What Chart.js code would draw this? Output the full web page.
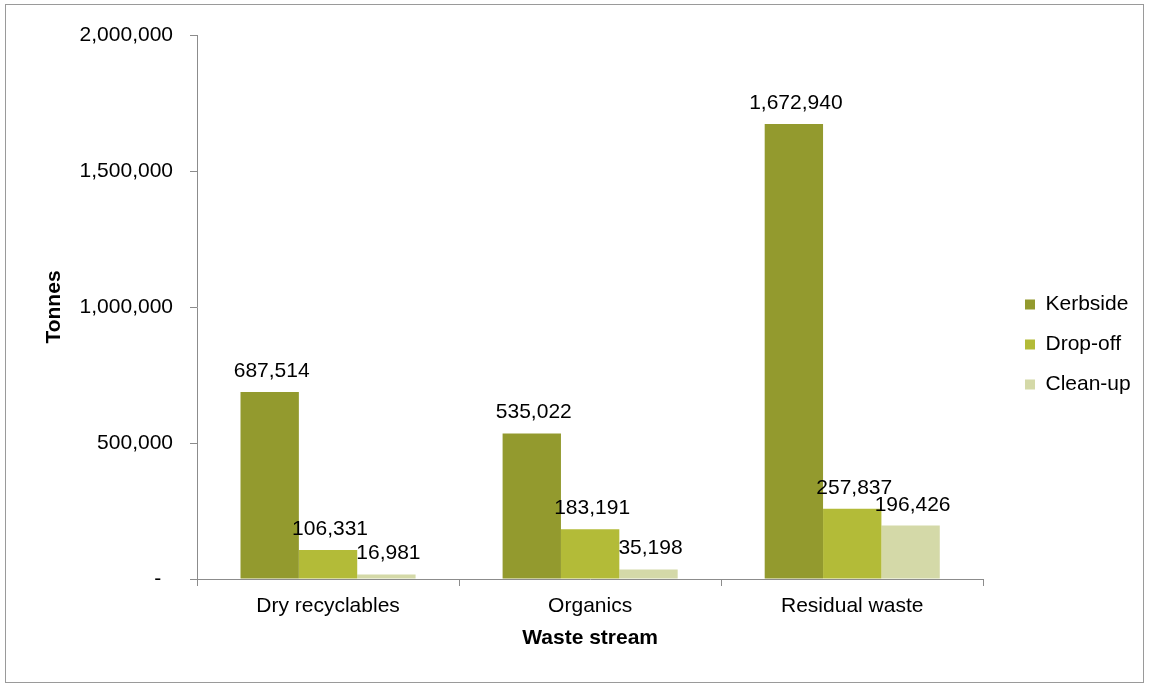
<!DOCTYPE html>
<html>
<head>
    <meta charset="utf-8">
    <title>Waste stream</title>
    <script src="https://cdn.jsdelivr.net/npm/chart.js@4.4.0/dist/chart.umd.min.js"></script>
    <style>
        body { margin: 0; background: #fff; }
        #wrap { position: relative; width: 1149px; height: 684px; }
    </style>
</head>
<body>
    <div id="wrap"><canvas id="canvas" width="1149" height="684"></canvas></div>
    <script>
        // data
        const streams = ['Dry recyclables', 'Organics', 'Residual waste'];
        const kerbside = [687514, 535022, 1672940];
        const dropOff = [106331, 183191, 257837];
        const cleanUp = [16981, 35198, 196426];
        const seriesNames = ['Kerbside', 'Drop-off', 'Clean-up'];
        const seriesColours = ['#939a2e', '#b3bb38', '#d4d9a8'];

        const fnt = '"Liberation Sans", Arial, sans-serif';
        const fs = 21;

        // grey frame round the whole chart
        const framePlugin = {
            id: 'frame',
            beforeDraw(chart) {
                const c = chart.ctx;
                c.save();
                c.strokeStyle = '#9a9a9a';
                c.lineWidth = 1;
                c.strokeRect(5.5, 4.5, 1138, 678);
                c.restore();
            }
        };

        // move the legend to where it sits in the original
        const legendPlace = {
            id: 'legendPlace',
            afterLayout(chart) {
                const lg = chart.legend;
                const dx = 1006 - lg.left;
                const dy = -15;
                lg.left += dx; lg.right += dx;
                lg.top += dy; lg.bottom += dy;
            }
        };

        // numbers above the bars
        const labelPlugin = {
            id: 'barLabels',
            afterDatasetsDraw(chart) {
                const c = chart.ctx;
                c.save();
                c.font = fs + 'px ' + fnt;
                c.fillStyle = '#000';
                c.textAlign = 'center';
                c.textBaseline = 'alphabetic';
                chart.data.datasets.forEach((ds, i) => {
                    chart.getDatasetMeta(i).data.forEach((bar, j) => {
                        c.fillText(ds.data[j].toLocaleString('en-US'), bar.x + 2, bar.y - 15);
                    });
                });
                c.restore();
            }
        };

        new Chart(document.getElementById('canvas'), {
            type: 'bar',
            data: {
                labels: streams,
                datasets: [kerbside, dropOff, cleanUp].map((d, i) => ({
                    label: seriesNames[i],
                    data: d,
                    backgroundColor: seriesColours[i],
                    categoryPercentage: 0.668,
                    barPercentage: 1
                }))
            },
            options: {
                responsive: false,
                animation: false,
                devicePixelRatio: 1,
                layout: { padding: { top: 35, left: 0, right: 31, bottom: 0 } },
                plugins: {
                    tooltip: { enabled: false },
                    legend: {
                        position: 'right',
                        labels: {
                            font: { family: fnt, size: fs },
                            color: '#000',
                            boxWidth: 10,
                            boxHeight: 10,
                            padding: 19
                        }
                    }
                },
                scales: {
                    x: {
                        afterFit(s) { s.height = 105; },
                        border: { color: '#8c8c8c' },
                        grid: { drawOnChartArea: false, tickLength: 7, color: '#8c8c8c', offset: true },
                        ticks: { font: { family: fnt, size: fs }, color: '#000', padding: 8 },
                        title: {
                            display: true, text: 'Waste stream',
                            font: { family: fnt, size: fs, weight: 'bold' }, color: '#000',
                            padding: { top: 0, bottom: 33 }
                        }
                    },
                    y: {
                        min: 0, max: 2000000,
                        afterFit(s) { s.width = 197; },
                        border: { color: '#8c8c8c' },
                        grid: { drawOnChartArea: false, tickLength: 7, color: '#8c8c8c' },
                        ticks: {
                            stepSize: 500000,
                            font: { family: fnt, size: fs }, color: '#000', padding: 17,
                            callback: v => v === 0 ? '-  ' : v.toLocaleString('en-US')
                        },
                        title: {
                            display: true, text: 'Tonnes',
                            font: { family: fnt, size: fs, weight: 'bold' }, color: '#000',
                            padding: { top: 42, bottom: 0 }
                        }
                    }
                }
            },
            plugins: [framePlugin, legendPlace, labelPlugin]
        });
    </script>
</body>
</html>
